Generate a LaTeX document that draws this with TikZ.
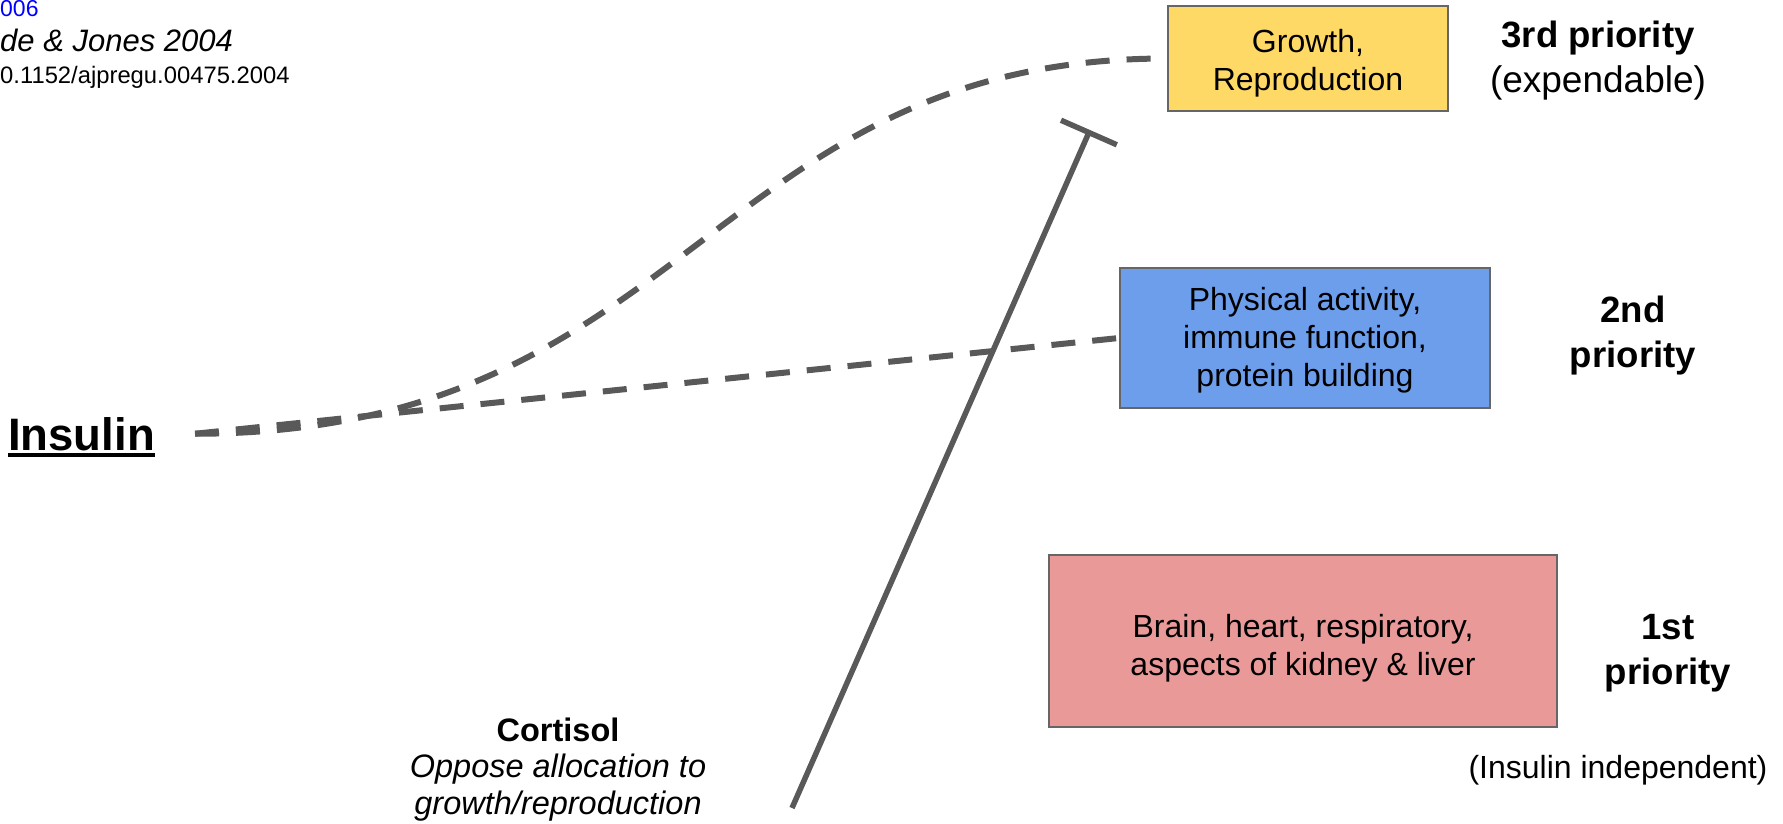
\documentclass[tikz,border=0pt]{standalone}
\usepackage{fontspec}
\setmainfont{Liberation Sans}
\usetikzlibrary{arrows.meta}

\definecolor{linegray}{HTML}{595959}
\definecolor{boxedge}{HTML}{666666}
\definecolor{growthfill}{HTML}{FFD966}
\definecolor{activityfill}{HTML}{6D9EEB}
\definecolor{vitalfill}{HTML}{EA9999}
\definecolor{linkblue}{HTML}{0000FF}
\newcommand{\fsz}[2]{\fontsize{#1}{#2}\selectfont}

\begin{document}
\begin{tikzpicture}[x=1pt,y=-1pt,
  tier/.style={draw=boxedge, line width=2pt, inner sep=0pt, align=center, font=\fsz{32}{38}},
  prio/.style={align=center, inner sep=0pt, anchor=base, font=\fsz{36.6}{45}\bfseries},
  plain/.style={inner sep=0pt, anchor=base, font=\fsz{32}{35}},
  alloc/.style={draw=linegray, line width=6pt, dash pattern=on 24pt off 17pt},
  block/.style={draw=linegray, line width=5.5pt, -{Bar[width=61pt]}},
]
\useasboundingbox (0,0) rectangle (1783,824);
\clip (0,0) rectangle (1783,824);

% reference lines, top left
\node[inner sep=0pt, anchor=base west, font=\fsz{23}{28}, text=linkblue] (ref1) at (0,17) {006};
\node[inner sep=0pt, anchor=base west, font=\fsz{31}{36}\itshape] (ref2) at (0,52) {de \& Jones 2004};
\node[inner sep=0pt, anchor=base west, font=\fsz{23.8}{28}] (ref3) at (0,84) {0.1152/ajpregu.00475.2004};

% allocation tiers (text height lowers the text block inside each box)
\node[tier, fill=growthfill, minimum width=280pt, minimum height=105pt, text height=71pt]
  (grow) at (1308,58.5) {Growth,\\Reproduction};
\node[tier, fill=activityfill, minimum width=370pt, minimum height=140pt, text height=104pt]
  (act) at (1305,338) {Physical activity,\\immune function,\\protein building};
\node[tier, fill=vitalfill, minimum width=508pt, minimum height=172pt, text height=75pt]
  (vital) at (1303,641) {Brain, heart, respiratory,\\aspects of kidney \& liver};

% priority labels (base = last line)
\node[prio] (p3) at (1598,93) {3rd priority\\{\mdseries\fsz{37}{45}(expendable)}};
\node[prio] (p2) at (1633,367) {2nd\\priority};
\node[prio] (p1) at (1668,684) {1st\\priority};
\node[plain] (indep) at (1618,778) {(Insulin independent)};

% insulin and its allocation paths
\node[inner sep=0pt, anchor=base west, font=\fsz{45.5}{54}\bfseries] (ins) at (8,450) {Insulin};
\draw[line width=4pt] ([yshift=-4.7pt]ins.base west) -- ([yshift=-4.7pt]ins.base east);
\coordinate (insout) at ([xshift=40pt]ins.east);

\draw[alloc] (insout) .. controls +(493,0) and +(-456,0) .. (grow.west);
\draw[alloc] (insout) -- (act.west);

% cortisol opposing growth
\node[plain, align=center, font=\fsz{32.5}{36.5}] (cort) at (558,814)
  {\textbf{Cortisol}\\\textit{Oppose allocation to}\\\textit{growth/reproduction}};
\coordinate (cortfoot) at (792,808);
\coordinate (cortstop) at (1090,130);
\draw[block] (cortfoot) -- (cortstop);
\end{tikzpicture}
\end{document}
